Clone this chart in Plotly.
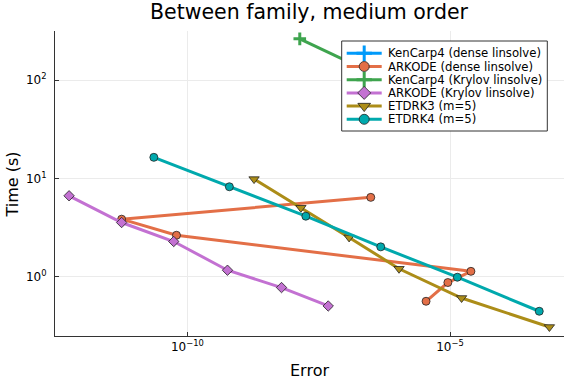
import plotly.graph_objects as go

# Series data (error, time in seconds)
kc_dense_err = [1.0e-6, 1.0e-5, 1.0e-4]
kc_dense_time = [150, 80, 45]

ark_dense_err = [3.1e-7, 5.6e-12, 6.2e-11, 2.5e-5, 9.1e-6, 3.5e-6]
ark_dense_time = [6.43, 3.86, 2.65, 1.14, 0.877, 0.566]

kc_kry_err = [1.38e-8, 2.5e-7, 6.3e-6]
kc_kry_time = [262, 126, 56]

ark_kry_err = [5.6e-13, 5.6e-12, 5.5e-11, 5.8e-10, 6.2e-9, 4.8e-8]
ark_kry_time = [6.67, 3.57, 2.29, 1.17, 0.78, 0.507]

etd3_err = [1.86e-9, 1.45e-8, 1.2e-7, 1.07e-6, 1.66e-5, 7.8e-4]
etd3_time = [9.86, 5.04, 2.52, 1.21, 0.611, 0.31]

etd4_err = [2.3e-11, 6.3e-10, 1.8e-8, 4.8e-7, 1.38e-5, 5.0e-4]
etd4_time = [16.4, 8.24, 4.14, 2.02, 0.993, 0.448]

x_tickvals = [1e-10, 1e-5]
x_ticktext = ["10<sup>\u221210</sup>", "10<sup>\u22125</sup>"]
y_tickvals = [1, 10, 100]
y_ticktext = ["10<sup>0</sup>", "10<sup>1</sup>", "10<sup>2</sup>"]

series = [
    ("KenCarp4 (dense linsolve)", kc_dense_err, kc_dense_time, "#009AFA", "cross-thin", 9),
    ("ARKODE (dense linsolve)", ark_dense_err, ark_dense_time, "#E36F47", "circle", 8),
    ("KenCarp4 (Krylov linsolve)", kc_kry_err, kc_kry_time, "#3EA44E", "cross-thin", 9),
    ("ARKODE (Krylov linsolve)", ark_kry_err, ark_kry_time, "#C371D2", "diamond", 8),
    ("ETDRK3 (m=5)", etd3_err, etd3_time, "#AC8D18", "triangle-down", 9),
    ("ETDRK4 (m=5)", etd4_err, etd4_time, "#00A9AD", "circle", 8),
]

FONT = "DejaVu Sans"

# plot area in pixels
L, R, T, B = 55, 564, 31, 336
W, H = 576, 384


def px2x(p):
    return (p - L) / (R - L)


def px2y(p):
    return (B - p) / (B - T)


def make_marker(col, sym, sz):
    if sym == "cross-thin":
        return dict(symbol=sym, size=sz, color=col, line=dict(color=col, width=3))
    return dict(symbol=sym, size=sz, color=col, line=dict(color="#222222", width=0.8))


fig = go.Figure()
for name, xs, ys, col, sym, sz in series:
    fig.add_trace(go.Scatter(x=xs, y=ys, name=name, mode="lines+markers",
                             line=dict(color=col, width=3), marker=make_marker(col, sym, sz),
                             showlegend=False, hoverinfo="skip"))

# Custom legend drawn on an overlay subplot (0..1 over the plot area)
bx0, bx1, by0, by1 = px2x(341.7), px2x(547.3), px2y(131), px2y(41)
fig.add_trace(go.Scatter(x=[bx0, bx1, bx1, bx0, bx0], y=[by0, by0, by1, by1, by0],
                         xaxis="x2", yaxis="y2", mode="lines", fill="toself",
                         fillcolor="white", line=dict(color="#333333", width=1),
                         showlegend=False, hoverinfo="skip"))
row_y = [53.3, 66.5, 79.7, 92.9, 106.1, 119.3]
for (name, xs, ys, col, sym, sz), ry in zip(series, row_y):
    yy = px2y(ry)
    fig.add_trace(go.Scatter(x=[px2x(346.7), px2x(381.7)], y=[yy, yy], xaxis="x2", yaxis="y2",
                             mode="lines", line=dict(color=col, width=3),
                             showlegend=False, hoverinfo="skip"))
    fig.add_trace(go.Scatter(x=[px2x(364.2)], y=[yy], xaxis="x2", yaxis="y2",
                             mode="markers", marker=make_marker(col, sym, sz + 2),
                             showlegend=False, hoverinfo="skip"))
    fig.add_annotation(text=name, x=px2x(385.5), y=yy, xref="paper", yref="paper",
                       xanchor="left", yanchor="middle", showarrow=False,
                       font=dict(size=11.7, family=FONT, color="black"))

# Axis titles
fig.add_annotation(text="Error", x=px2x(309), y=px2y(371), xref="paper", yref="paper",
                   xanchor="center", yanchor="middle", showarrow=False,
                   font=dict(size=16, family=FONT, color="black"))
fig.add_annotation(text="Time (s)", x=px2x(12), y=px2y(184.5), xref="paper", yref="paper",
                   xanchor="center", yanchor="middle", showarrow=False, textangle=-90,
                   font=dict(size=16, family=FONT, color="black"))

fig.update_layout(
    width=W, height=H,
    margin=dict(l=L, r=W - R, t=T, b=H - B, autoexpand=False),
    paper_bgcolor="white", plot_bgcolor="white",
    font=dict(family=FONT, color="black"),
    title=dict(text="Between family, medium order", x=309 / W,
               xanchor="center", y=1 - 11.5 / H, yanchor="middle", yref="container",
               font=dict(size=20.5, family=FONT)),
    showlegend=False,
    xaxis2=dict(overlaying="x", range=[0, 1], visible=False, fixedrange=True),
    yaxis2=dict(overlaying="y", range=[0, 1], visible=False, fixedrange=True),
    xaxis=dict(type="log", range=[-12.52, -2.83], tickvals=x_tickvals, ticktext=x_ticktext,
               showgrid=True, gridcolor="#EBEBEB", gridwidth=1, zeroline=False,
               showline=True, linecolor="#333333", linewidth=1,
               ticks="inside", ticklen=4, tickcolor="#333333", automargin=False,
               tickfont=dict(size=12, family=FONT)),
    yaxis=dict(type="log", range=[-0.60, 2.498], tickvals=y_tickvals, ticktext=y_ticktext,
               showgrid=True, gridcolor="#EBEBEB", gridwidth=1, zeroline=False,
               showline=True, linecolor="#333333", linewidth=1,
               ticks="inside", ticklen=4, tickcolor="#333333", automargin=False,
               ticklabelstandoff=5,
               tickfont=dict(size=12, family=FONT)),
)

fig.write_html("out.html", config={"displayModeBar": False, "staticPlot": True},
               post_script="document.body.style.margin='0px';")
